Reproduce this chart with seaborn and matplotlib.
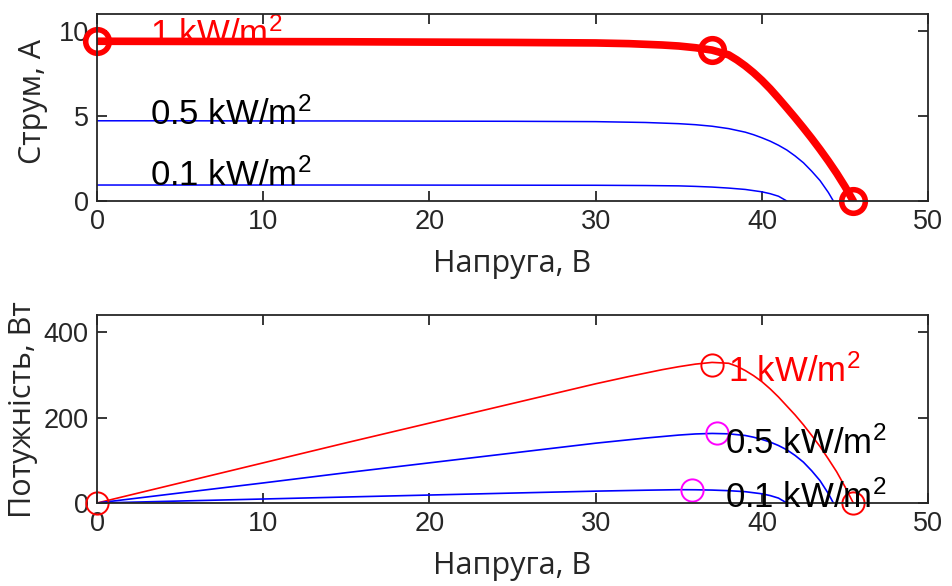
import matplotlib
matplotlib.use('Agg')
import matplotlib.pyplot as plt
import seaborn as sns

# I-V and P-V curves
v_1000 = [0, 5, 10, 15, 20, 25, 30, 32, 34, 35, 36, 37, 38, 38.5, 39, 39.5, 40, 40.5,
          41, 41.5, 42, 42.5, 43, 43.5, 44, 44.5, 45, 45.5]
i_1000 = [9.4, 9.39, 9.38, 9.37, 9.35, 9.33, 9.3, 9.26, 9.18, 9.12, 9.02, 8.88, 8.6, 8.3,
          7.95, 7.55, 7.1, 6.6, 6.05, 5.48, 4.9, 4.3, 3.68, 3.03, 2.35, 1.63, 0.85, 0]
p_1000 = [0, 47, 94, 141, 187, 233, 279, 296, 312, 319, 325, 329, 327, 320,
          310, 298, 284, 267, 248, 227, 206, 183, 158, 132, 103, 73, 38, 0]

v_500 = [0, 5, 10, 15, 20, 25, 30, 33, 35, 36, 37, 38, 39, 39.5, 40, 40.5, 41, 41.5,
         42, 42.5, 43, 43.5, 44, 44.3]
i_500 = [4.72, 4.72, 4.71, 4.71, 4.7, 4.69, 4.67, 4.62, 4.55, 4.49, 4.4, 4.26, 4.05, 3.9,
         3.72, 3.52, 3.28, 3.0, 2.65, 2.25, 1.75, 1.2, 0.5, 0]
p_500 = [0, 23.6, 47, 71, 94, 117, 140, 152, 159, 161.6, 162.8, 161.9, 158, 154,
         148.8, 142.6, 134.5, 124.5, 111.3, 95.6, 75.3, 52.2, 22, 0]

v_100 = [0, 5, 10, 15, 20, 25, 30, 33, 35, 36, 37, 38, 39, 40, 40.5, 41, 41.5]
i_100 = [0.94, 0.94, 0.94, 0.94, 0.935, 0.93, 0.925, 0.91, 0.89, 0.86, 0.82, 0.76, 0.68,
         0.54, 0.43, 0.28, 0]
p_100 = [0, 4.7, 9.4, 14.1, 18.7, 23.3, 27.8, 30.0, 31.2, 31.0, 30.3, 28.9, 26.5,
         21.6, 17.4, 11.5, 0]

# marked points
iv_marks_v = [0, 37, 45.5]
iv_marks_i = [9.4, 8.88, 0]
pv_red_v = [0, 37, 45.5]
pv_red_p = [0, 323, 0]
pv_mag_v = [37.3, 35.8]
pv_mag_p = [163, 30]

labels = ['1 kW/m$^2$', '0.5 kW/m$^2$', '0.1 kW/m$^2$']

sns.set_style('ticks')
plt.rcParams['font.family'] = ['Liberation Sans', 'DejaVu Sans']
plt.rcParams['mathtext.fontset'] = 'custom'
plt.rcParams['mathtext.rm'] = 'Liberation Sans'
plt.rcParams['mathtext.default'] = 'regular'

tick_col = '#262626'
lab_font = ['Open Sans', 'DejaVu Sans']
fig = plt.figure(figsize=(9.52, 5.86), dpi=100)
ax1 = fig.add_axes([0.1019, 0.657, 0.873, 0.319])
ax2 = fig.add_axes([0.1019, 0.1416, 0.873, 0.3209])

# top: current
sns.lineplot(x=v_1000, y=i_1000, ax=ax1, color='red', lw=5.5, sort=False)
sns.lineplot(x=v_500, y=i_500, ax=ax1, color='blue', lw=1.1, sort=False)
sns.lineplot(x=v_100, y=i_100, ax=ax1, color='blue', lw=1.1, sort=False)
ax1.plot(iv_marks_v, iv_marks_i, 'o', ms=17, mfc='none', mec='red', mew=4, clip_on=False)
ax1.text(3.2, 9.2, labels[0], color='red', fontsize=25, va='baseline', zorder=1)
ax1.text(3.2, 4.5, labels[1], color='black', fontsize=25, va='baseline')
ax1.text(3.2, 0.88, labels[2], color='black', fontsize=25, va='baseline')
ax1.set_ylim(0, 11)
ax1.set_yticks([0, 5, 10])
ax1.set_ylabel('Струм, А', family=lab_font, fontsize=22)

# bottom: power
sns.lineplot(x=v_1000, y=p_1000, ax=ax2, color='red', lw=1.2, sort=False)
sns.lineplot(x=v_500, y=p_500, ax=ax2, color='blue', lw=1.2, sort=False)
sns.lineplot(x=v_100, y=p_100, ax=ax2, color='blue', lw=1.2, sort=False)
ax2.plot(pv_red_v, pv_red_p, 'o', ms=16, mfc='none', mec='red', mew=1.4, clip_on=False)
ax2.plot(pv_mag_v, pv_mag_p, 'o', ms=16, mfc='none', mec='magenta', mew=1.4, clip_on=False)
ax2.text(37.97, 284, labels[0], color='red', fontsize=25, va='baseline')
ax2.text(37.8, 115, labels[1], color='black', fontsize=25, va='baseline')
ax2.text(37.8, -12, labels[2], color='black', fontsize=25, va='baseline')
ax2.set_ylim(0, 440)
ax2.set_yticks([0, 200, 400])
ax2.set_ylabel('Потужність, Вт', family=lab_font, fontsize=22)

for ax in (ax1, ax2):
    ax.set_xlim(0, 50)
    ax.set_xticks([0, 10, 20, 30, 40, 50])
    ax.set_xlabel('Напруга, В', family=lab_font, fontsize=22, labelpad=10)
    ax.tick_params(direction='in', length=7, width=1.3, top=True, right=True,
                   labelsize=19.5, colors=tick_col, labelcolor=tick_col, pad=6)
    for s in ax.spines.values():
        s.set_visible(True)
        s.set_color(tick_col)
        s.set_linewidth(1.3)

ax1.yaxis.set_label_coords(-0.059, 0.53)
ax2.yaxis.set_label_coords(-0.071, 0.495)

fig.savefig('out.png', dpi=100)
